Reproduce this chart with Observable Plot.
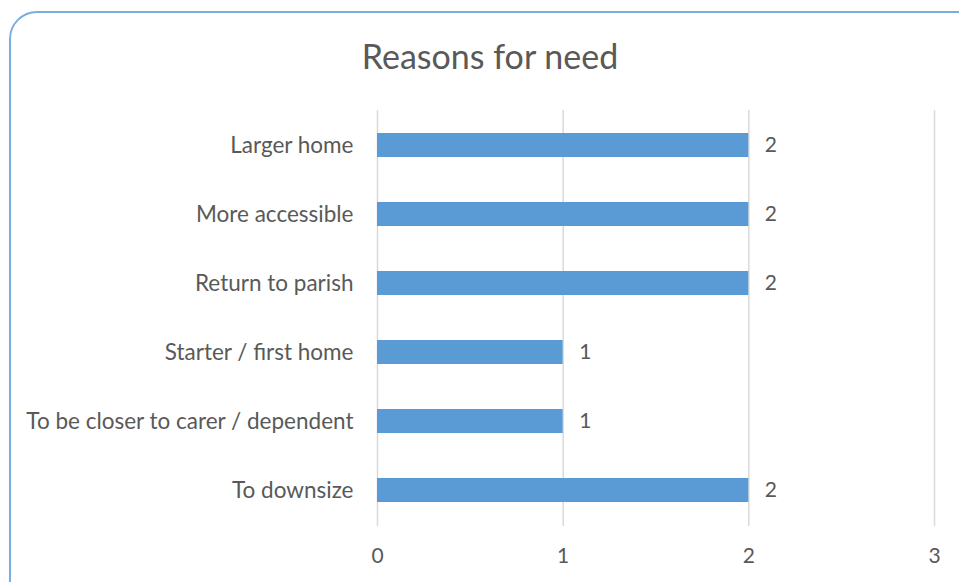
<!DOCTYPE html>
<html>
<head>
<meta charset="utf-8">
<script src="https://cdn.jsdelivr.net/npm/d3@7"></script>
<script src="https://cdn.jsdelivr.net/npm/@observablehq/plot@0.6"></script>
<style>
  body { margin: 0; background: #fff; }
  #wrap { position: relative; width: 959px; height: 582px; overflow: hidden; background: #fff; }
  #frame { position: absolute; left: 9px; top: 11px; width: 980px; height: 600px; border: 2px solid #7aaee0; border-radius: 28px; box-sizing: border-box; }
  #title { position: absolute; left: 0; width: 980px; top: 36px; line-height: 1.2; text-align: center; font-family: Lato, sans-serif; font-size: 34px; color: #595959; }
  #chart { position: absolute; left: 0; top: 0; }
</style>
</head>
<body>
<div id="wrap">
  <div id="frame"></div>
  <div id="title">Reasons for need</div>
  <div id="chart"></div>
</div>
<script>
const categories = ["Larger home", "More accessible", "Return to parish", "Starter / first home", "To be closer to carer / dependent", "To downsize"];
const values = [2, 2, 2, 1, 1, 2];
const xTicks = [0, 1, 2, 3];

const data = categories.map((c, i) => ({category: c, value: values[i]}));

const plot = Plot.plot({
  width: 959,
  height: 582,
  marginLeft: 377,
  marginRight: 25,
  marginTop: 110,
  marginBottom: 56,
  style: {fontFamily: "Lato, sans-serif", color: "#595959", background: "transparent"},
  x: {domain: [0, 3], ticks: xTicks, label: null},
  y: {domain: categories, paddingInner: 0.65, paddingOuter: 0.325, label: null},
  marks: [
    Plot.ruleX(xTicks, {stroke: "#d9d9d9", strokeWidth: 1.5}),
    Plot.barX(data, {x: "value", y: "category", fill: "#5b9bd5"}),
    Plot.text(data, {x: "value", y: "category", text: d => String(d.value), textAnchor: "start", dx: 16, fontSize: 21, fill: "#595959"}),
    Plot.axisY({tickSize: 0, tickPadding: 24, fontSize: 22.5, label: null}),
    Plot.axisX({ticks: xTicks, tickSize: 0, tickPadding: 22, fontSize: 21, label: null, tickFormat: d3.format("d")})
  ]
});
document.getElementById("chart").appendChild(plot);
</script>
</body>
</html>
